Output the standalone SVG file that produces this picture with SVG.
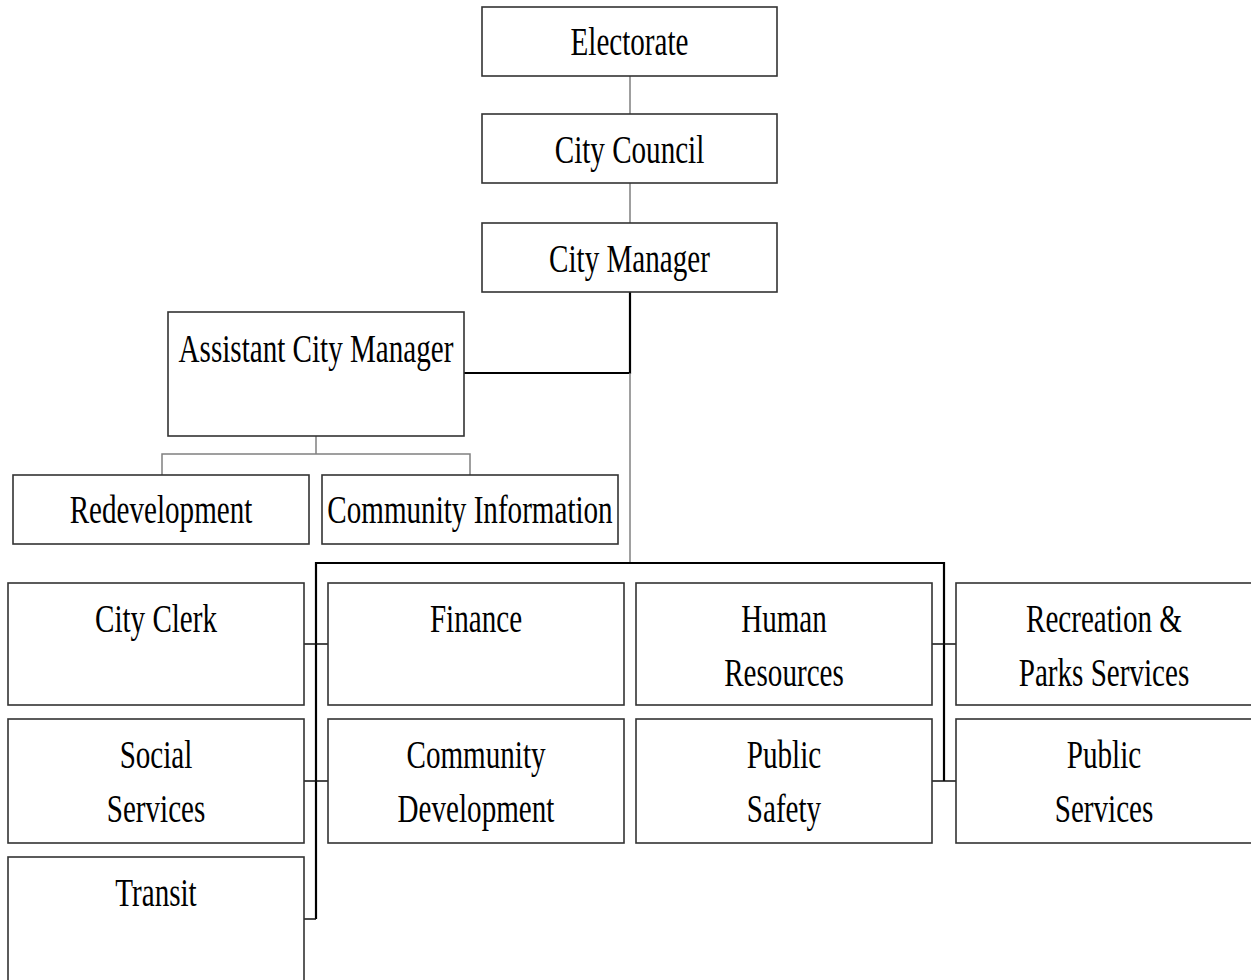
<svg xmlns="http://www.w3.org/2000/svg" width="1251" height="980" viewBox="0 0 1251 980">
<style>
rect.box{fill:#fff;stroke:#333;stroke-width:1.6}
text{font-family:'Liberation Serif','Times New Roman',serif;font-size:41px;fill:#000;text-anchor:middle}
.g{stroke:#808080;stroke-width:1.5;fill:none}
.k{stroke:#000;stroke-width:2.2;fill:none}
.s{stroke:#111;stroke-width:1.5;fill:none}
</style>
<rect width="1251" height="980" fill="#fff"/>
<g id="connectors">
<path class="g" d="M630 76V114M630 183V223"/>
<path class="k" d="M630 292V373H464"/>
<path class="g" d="M630 373V563"/>
<path class="k" d="M316 919V563H944V781"/>
<path class="s" d="M304 919H316"/>
<path class="s" d="M304 644H328M304 781H328M932 644H956M932 781H956"/>
<path class="g" d="M316 436V454M162 475V454H470V475"/>
</g>
<g id="electorate"><rect class="box" x="482" y="7" width="295" height="69"/><text transform="translate(629.5,55) scale(0.71,1)">Electorate</text></g>
<g id="city-council"><rect class="box" x="482" y="114" width="295" height="69"/><text transform="translate(629.5,163) scale(0.71,1)">City Council</text></g>
<g id="city-manager"><rect class="box" x="482" y="223" width="295" height="69"/><text transform="translate(629.5,272) scale(0.71,1)">City Manager</text></g>
<g id="assistant-city-manager"><rect class="box" x="168" y="312" width="296" height="124"/><text transform="translate(316,362) scale(0.71,1)">Assistant City Manager</text></g>
<g id="redevelopment"><rect class="box" x="13" y="475" width="296" height="69"/><text transform="translate(161,523) scale(0.71,1)">Redevelopment</text></g>
<g id="community-information"><rect class="box" x="322" y="475" width="296" height="69"/><text transform="translate(470,523) scale(0.71,1)">Community Information</text></g>
<g id="city-clerk"><rect class="box" x="8" y="583" width="296" height="122"/><text transform="translate(156,632) scale(0.71,1)">City Clerk</text></g>
<g id="finance"><rect class="box" x="328" y="583" width="296" height="122"/><text transform="translate(476,632) scale(0.71,1)">Finance</text></g>
<g id="human-resources"><rect class="box" x="636" y="583" width="296" height="122"/><text transform="translate(784,632) scale(0.71,1)">Human</text><text transform="translate(784,686) scale(0.71,1)">Resources</text></g>
<g id="recreation-parks"><rect class="box" x="956" y="583" width="300" height="122"/><text transform="translate(1104,632) scale(0.71,1)">Recreation &amp;</text><text transform="translate(1104,686) scale(0.71,1)">Parks Services</text></g>
<g id="social-services"><rect class="box" x="8" y="719" width="296" height="124"/><text transform="translate(156,768) scale(0.71,1)">Social</text><text transform="translate(156,822) scale(0.71,1)">Services</text></g>
<g id="community-development"><rect class="box" x="328" y="719" width="296" height="124"/><text transform="translate(476,768) scale(0.71,1)">Community</text><text transform="translate(476,822) scale(0.71,1)">Development</text></g>
<g id="public-safety"><rect class="box" x="636" y="719" width="296" height="124"/><text transform="translate(784,768) scale(0.71,1)">Public</text><text transform="translate(784,822) scale(0.71,1)">Safety</text></g>
<g id="public-services"><rect class="box" x="956" y="719" width="300" height="124"/><text transform="translate(1104,768) scale(0.71,1)">Public</text><text transform="translate(1104,822) scale(0.71,1)">Services</text></g>
<g id="transit"><rect class="box" x="8" y="857" width="296" height="130"/><text transform="translate(156,906) scale(0.71,1)">Transit</text></g>
</svg>
